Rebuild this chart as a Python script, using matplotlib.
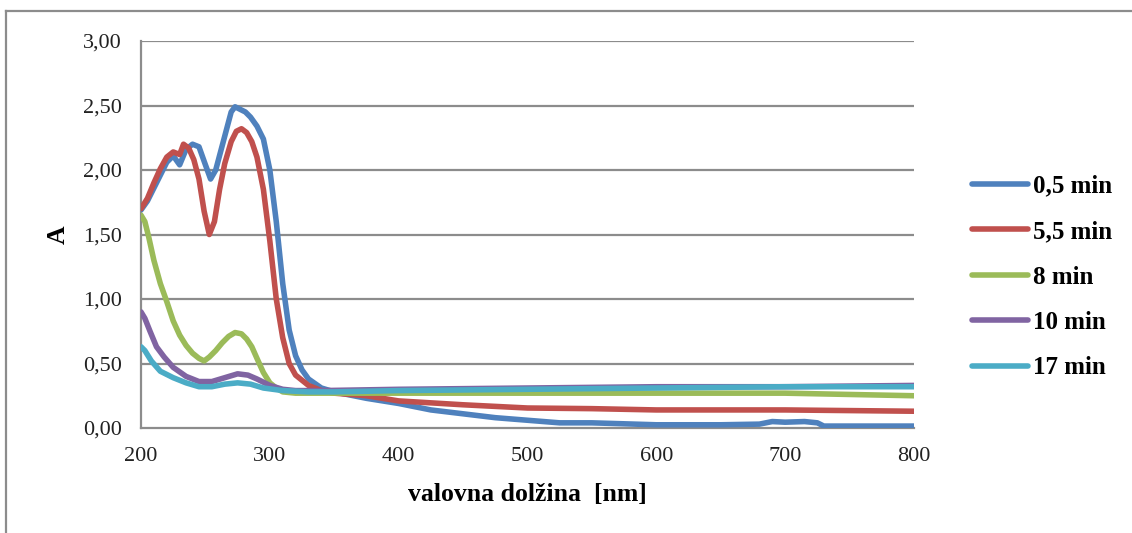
import matplotlib
matplotlib.use("Agg")
import matplotlib.pyplot as plt
from matplotlib.lines import Line2D

# ---- data ----
wl_05 = [200, 205, 210, 215, 220, 225, 230, 235, 240, 245, 250, 254, 258, 262, 266, 270, 273, 277, 281, 285,
         290, 295, 300, 305, 310, 315, 320, 325, 330, 340, 350, 375, 400, 425, 450, 475, 500, 525, 550,
         600, 650, 680, 690, 700, 715, 725, 730, 800]
a_05 = [1.69, 1.76, 1.86, 1.96, 2.06, 2.11, 2.04, 2.16, 2.20, 2.18, 2.04, 1.93, 2.00, 2.15, 2.30, 2.45, 2.49, 2.47,
        2.45, 2.41, 2.34, 2.24, 2.00, 1.60, 1.12, 0.76, 0.56, 0.45, 0.38, 0.31, 0.28, 0.23, 0.19, 0.14, 0.11, 0.08,
        0.06, 0.04, 0.04, 0.025, 0.025, 0.03, 0.05, 0.045, 0.05, 0.04, 0.015, 0.015]

wl_55 = [200, 205, 210, 215, 220, 225, 230, 233, 237, 241, 245, 249, 253, 257, 261, 265, 270, 274, 278, 282,
         286, 290, 295, 300, 305, 310, 315, 320, 330, 340, 350, 375, 400, 450, 500, 550, 600, 700, 800]
a_55 = [1.70, 1.78, 1.90, 2.01, 2.10, 2.14, 2.12, 2.20, 2.17, 2.08, 1.93, 1.68, 1.50, 1.60, 1.85, 2.05, 2.22, 2.30,
        2.32, 2.29, 2.22, 2.10, 1.85, 1.45, 1.00, 0.70, 0.50, 0.41, 0.33, 0.29, 0.27, 0.25, 0.21, 0.18, 0.155,
        0.15, 0.14, 0.14, 0.13]

wl_8 = [200, 203, 206, 210, 215, 220, 225, 230, 235, 240, 245, 249, 253, 258, 263, 268, 273, 278, 282, 286,
        290, 295, 300, 305, 310, 320, 350, 400, 500, 600, 700, 750, 800]
a_8 = [1.65, 1.60, 1.48, 1.30, 1.12, 0.98, 0.83, 0.72, 0.64, 0.58, 0.54, 0.52, 0.55, 0.60, 0.66, 0.71, 0.74, 0.73,
       0.69, 0.63, 0.54, 0.43, 0.35, 0.31, 0.28, 0.27, 0.27, 0.27, 0.27, 0.27, 0.27, 0.26, 0.25]

wl_10 = [200, 203, 207, 212, 218, 225, 235, 245, 255, 265, 275, 283, 290, 300, 310, 320, 340, 400, 500, 600,
         700, 800]
a_10 = [0.90, 0.85, 0.75, 0.63, 0.55, 0.47, 0.40, 0.36, 0.36, 0.39, 0.42, 0.41, 0.38, 0.33, 0.30, 0.29, 0.29, 0.30,
        0.31, 0.32, 0.32, 0.33]

wl_17 = [200, 203, 208, 215, 225, 235, 245, 255, 265, 275, 285, 295, 310, 330, 350, 400, 500, 600, 700, 800]
a_17 = [0.63, 0.60, 0.52, 0.44, 0.39, 0.35, 0.32, 0.32, 0.34, 0.35, 0.34, 0.31, 0.29, 0.28, 0.28, 0.29, 0.30,
        0.31, 0.32, 0.32]

labels = ["0,5 min", "5,5 min", "8 min", "10 min", "17 min"]
colors = ["#4F81BD", "#C0504D", "#9BBB59", "#8064A2", "#4BACC6"]
series = [(wl_05, a_05), (wl_55, a_55), (wl_8, a_8), (wl_10, a_10), (wl_17, a_17)]

x_ticks = [200, 300, 400, 500, 600, 700, 800]
y_ticks = [0.0, 0.5, 1.0, 1.5, 2.0, 2.5, 3.0]

plt.rcParams['font.family'] = ['Liberation Serif', 'DejaVu Serif']

W, H = 1132, 533
fig = plt.figure(figsize=(W / 100, H / 100), dpi=100)
ax = fig.add_axes([141 / W, 1 - 428 / H, (914 - 141) / W, (428 - 41) / H])

grid_c = "#8C8C8C"
for v in y_ticks[1:]:
    ax.axhline(v, color=grid_c, lw=1.6, zorder=1)

handles = []
for (x, y), lab, c in zip(series, labels, colors):
    h, = ax.plot(x, y, color=c, lw=4.0, label=lab, solid_capstyle='round',
                 solid_joinstyle='round', zorder=3)
    handles.append(h)

ax.set_xlim(200, 800)
ax.set_ylim(0, 3.0)
ax.set_xticks(x_ticks)
ax.set_yticks(y_ticks)
ax.set_xticklabels([str(t) for t in x_ticks])
ax.set_yticklabels([f"{t:.2f}".replace(".", ",") for t in y_ticks])
ax.tick_params(length=0, labelsize=16, colors="#222222")
ax.tick_params(axis='y', pad=14)
ax.tick_params(axis='x', pad=14)
for s in ["top", "right"]:
    ax.spines[s].set_visible(False)
for s in ["left", "bottom"]:
    ax.spines[s].set_color(grid_c)
    ax.spines[s].set_linewidth(1.6)

fig.text(527 / W, 1 - 494 / H, "valovna dolžina  [nm]", ha="center", va="center",
         fontsize=18.5, fontweight="bold")
fig.text(58 / W, 1 - 235 / H, "A", ha="center", va="center", rotation=90,
         fontsize=18.5, fontweight="bold")

fig.legend(handles=handles, labels=labels, loc="center left",
           bbox_to_anchor=(959 / W, 1 - 277 / H), frameon=False,
           prop={"size": 18, "weight": "bold"}, handlelength=2.25,
           handletextpad=0.2, labelspacing=0.9, borderpad=0)

# outer chart frame
fig.add_artist(Line2D([6 / W, 6 / W], [0, 1 - 11 / H], color=grid_c, lw=1.6, transform=fig.transFigure))
fig.add_artist(Line2D([6 / W, 1], [1 - 11 / H, 1 - 11 / H], color=grid_c, lw=1.6, transform=fig.transFigure))

fig.savefig("out.png", dpi=100)
